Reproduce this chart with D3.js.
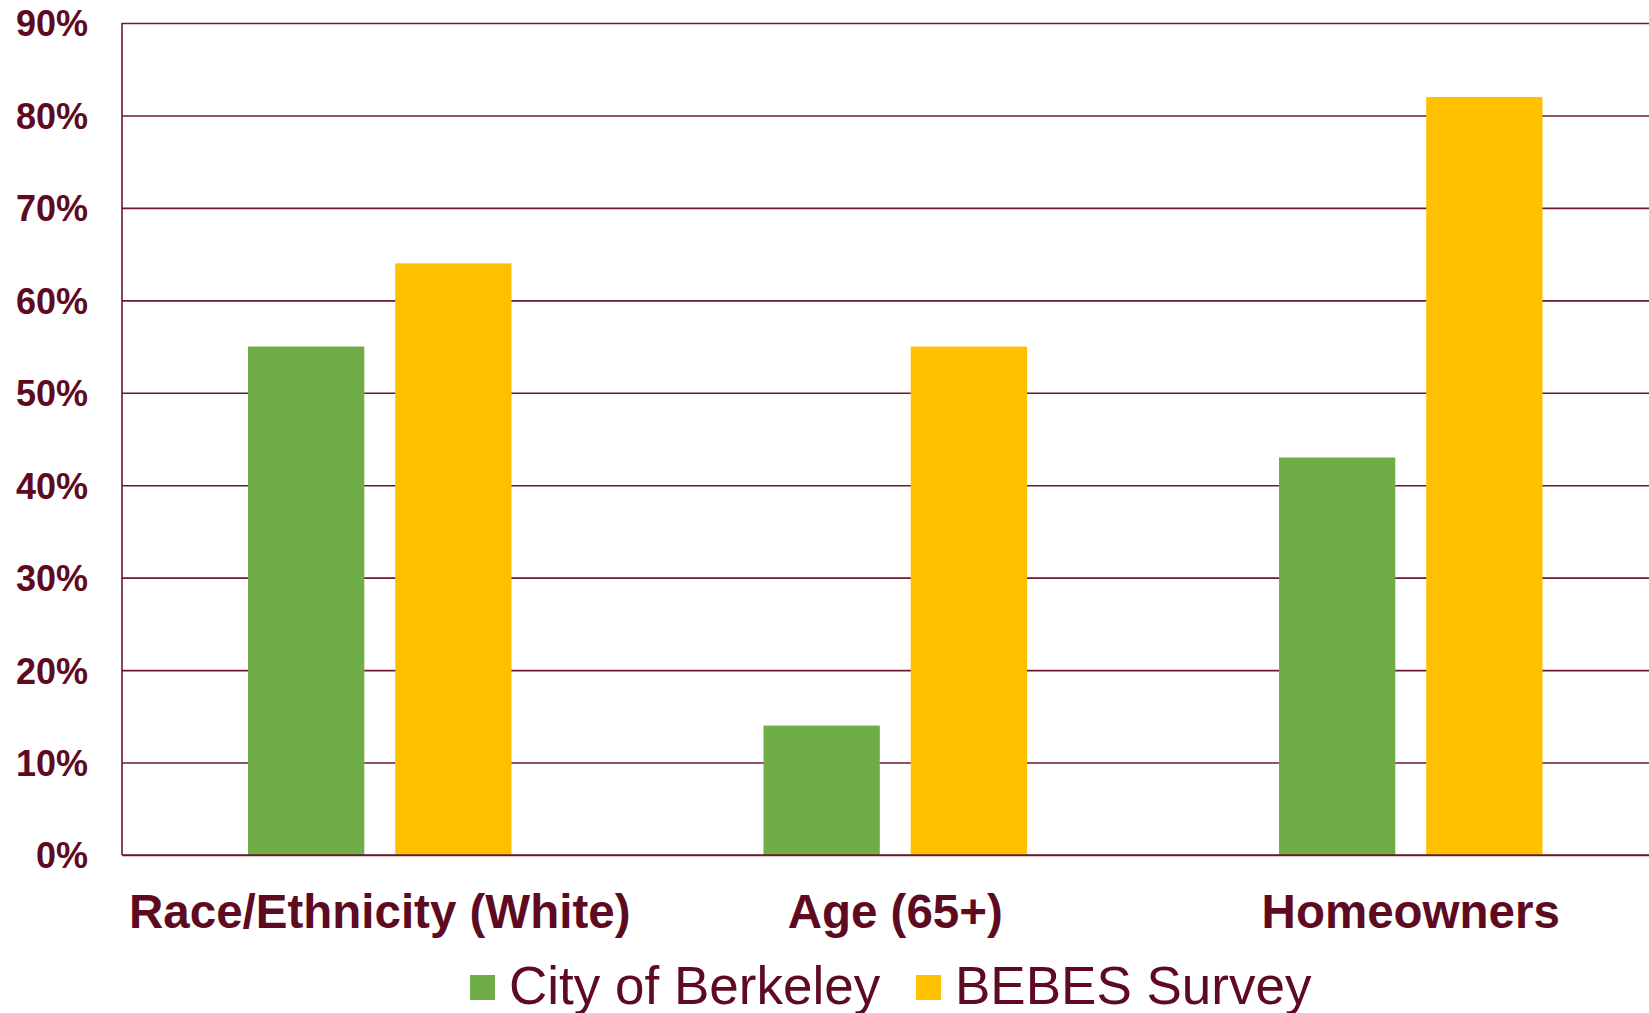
<!DOCTYPE html>
<html>
<head>
<meta charset="utf-8">
<script src="https://cdn.jsdelivr.net/npm/d3@7"></script>
<style>
  body { margin: 0; background: #fff; }
  svg { display: block; font-family: "Liberation Sans", Arial, sans-serif; }
</style>
</head>
<body>
<svg id="vis"></svg>
<script>
const TEXT_COLOUR = '#5e0b22';
const LINE_COLOUR = '#6a1a2e';

const categories = ['Race/Ethnicity (White)', 'Age (65+)', 'Homeowners'];
const seriesNames = ['City of Berkeley', 'BEBES Survey'];
const seriesColours = ['#70ad47', '#ffc000'];
const berkeleyValues = [55, 14, 43];
const bebesValues = [64, 55, 82];
const yTicks = [0, 10, 20, 30, 40, 50, 60, 70, 80, 90];

var width = 1649, height = 1013;
var svg = d3.select('#vis').attr('width', width).attr('height', height);

var plot = { left: 122, top: 23, bottom: 855, bandStep: 515.5 };

var x = d3.scaleBand()
    .domain(categories)
    .range([plot.left, plot.left + plot.bandStep * categories.length])
    .paddingInner(0)
    .paddingOuter(0);

var inner = d3.scaleBand()
    .domain(seriesNames)
    .range([126, x.bandwidth() - 126])
    .paddingInner(0.21);

var y = d3.scaleLinear().domain([0, 90]).range([plot.bottom, plot.top]);

// grid lines
var yAxis = d3.axisLeft(y).tickValues(yTicks).tickSize(-(width - plot.left)).tickFormat(d => d + '%');
var ga = svg.append('g').attr('transform', 'translate(' + plot.left + ',0)').call(yAxis);
ga.select('.domain').remove();
ga.selectAll('.tick line').attr('stroke', LINE_COLOUR).attr('stroke-width', 1.6);
ga.selectAll('.tick text')
    .attr('x', -34)
    .attr('dy', '0.36em')
    .attr('fill', TEXT_COLOUR)
    .attr('font-size', 36)
    .attr('font-weight', 'bold');

// left axis line
svg.append('line')
    .attr('x1', plot.left).attr('x2', plot.left)
    .attr('y1', y(90)).attr('y2', y(0))
    .attr('stroke', LINE_COLOUR).attr('stroke-width', 1.6);

// bars
var seriesValues = [berkeleyValues, bebesValues];
for (var s = 0; s < seriesNames.length; s++) {
    svg.append('g').selectAll('rect')
        .data(categories)
        .enter().append('rect')
        .attr('x', (d) => x(d) + inner(seriesNames[s]))
        .attr('y', (d, i) => y(seriesValues[s][i]))
        .attr('width', inner.bandwidth())
        .attr('height', (d, i) => y(0) - y(seriesValues[s][i]))
        .attr('fill', seriesColours[s]);
}

// baseline on top of bars
svg.append('line')
    .attr('x1', plot.left).attr('x2', width)
    .attr('y1', y(0)).attr('y2', y(0))
    .attr('stroke', LINE_COLOUR).attr('stroke-width', 1.6);

// category labels
svg.append('g').selectAll('text')
    .data(categories)
    .enter().append('text')
    .attr('x', d => x(d) + x.bandwidth() / 2)
    .attr('y', 928)
    .attr('text-anchor', 'middle')
    .attr('fill', TEXT_COLOUR)
    .attr('font-size', 47.5)
    .attr('font-weight', 'bold')
    .text(d => d);

// legend
var legendX = [470, 916];
var lg = svg.append('g');
for (var s = 0; s < seriesNames.length; s++) {
    lg.append('rect')
        .attr('x', legendX[s]).attr('y', 975)
        .attr('width', 25).attr('height', 25)
        .attr('fill', seriesColours[s]);
    lg.append('text')
        .attr('x', legendX[s] + 39).attr('y', 1004)
        .attr('fill', TEXT_COLOUR)
        .attr('font-size', 53)
        .text(seriesNames[s]);
}
</script>
</body>
</html>
